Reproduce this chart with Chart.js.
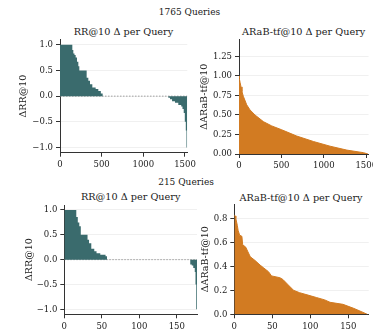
<!DOCTYPE html>
<html>
<head>
<meta charset="utf-8">
<script src="https://cdn.jsdelivr.net/npm/chart.js@4.4.0/dist/chart.umd.min.js"></script>
<style>
  html, body { margin: 0; padding: 0; background: #fff; overflow: hidden; }
  body { width: 373px; height: 331px; position: relative; font-family: "DejaVu Serif", serif; color: #1a1a1a; }
  canvas { position: absolute; }
  .txt { position: absolute; transform: translate(-50%, -50%); white-space: nowrap; line-height: 1; }
  .sup { font-size: 9px; }
  .ttl { font-size: 9.7px; }
</style>
</head>
<body>
<div class="txt sup" style="left:189.5px; top:12px">1765 Queries</div>
<div class="txt ttl" style="left:123.5px; top:31.5px">RR@10 Δ per Query</div>
<div class="txt ttl" style="left:303.7px; top:31.5px">ARaB-tf@10 Δ per Query</div>
<div class="txt sup" style="left:186px; top:181.7px">215 Queries</div>
<div class="txt ttl" style="left:130.7px; top:197.3px">RR@10 Δ per Query</div>
<div class="txt ttl" style="left:301px; top:197.7px">ARaB-tf@10 Δ per Query</div>

<canvas id="rr-top" width="200" height="145" style="left:0; top:30px"></canvas>
<canvas id="arab-top" width="200" height="145" style="left:190px; top:30px"></canvas>
<canvas id="rr-bottom" width="215" height="136" style="left:0; top:195px"></canvas>
<canvas id="arab-bottom" width="200" height="136" style="left:190px; top:195px"></canvas>

<script>
// 1765 queries (top row)
const topCount = 1528;
const topRrStart = [0, 148, 160, 174, 188, 204, 220, 232, 320, 340, 360, 388, 428, 460, 490, 512, 1300, 1320, 1345, 1380, 1420, 1455, 1470, 1485, 1498, 1510, 1518];
const topRrDelta = [1.0, 0.9, 0.83, 0.8, 0.75, 0.67, 0.58, 0.5, 0.36, 0.3, 0.23, 0.17, 0.14, 0.1, 0.05, 0, -0.03, -0.06, -0.1, -0.13, -0.17, -0.2, -0.25, -0.33, -0.5, -0.67, -1.0];
const topArabRank = [0, 3, 12, 24, 35, 51, 91, 130, 189, 287, 386, 504, 681, 878, 1074, 1271, 1468, 1520];
const topArabDelta = [1.0, 0.97, 0.92, 0.86, 0.8, 0.74, 0.63, 0.565, 0.5, 0.415, 0.36, 0.31, 0.23, 0.16, 0.1, 0.05, 0.017, 0];

// 215 queries (bottom row)
const bottomCount = 177;
const bottomRrStart = [0, 16, 18, 20, 22, 31, 33, 36, 40, 43, 48, 55, 57, 168, 170, 172, 174, 175, 176];
const bottomRrDelta = [1.0, 0.86, 0.75, 0.67, 0.5, 0.4, 0.33, 0.22, 0.17, 0.13, 0.1, 0.07, 0, -0.1, -0.12, -0.17, -0.25, -0.5, -1.0];
const bottomArabRank = [0, 1, 2, 4, 5, 7, 10, 11, 15, 18, 21, 27, 34, 38, 45, 49, 60, 64, 71, 78, 86, 97, 108, 119, 126, 143, 157, 168, 175];
const bottomArabDelta = [0.83, 0.82, 0.8, 0.74, 0.7, 0.66, 0.65, 0.58, 0.56, 0.52, 0.48, 0.45, 0.41, 0.39, 0.355, 0.32, 0.305, 0.29, 0.245, 0.2, 0.18, 0.16, 0.14, 0.12, 0.1, 0.083, 0.05, 0.02, 0];

// tick labels
const topRankTicks = [0, 500, 1000, 1500];
const bottomRankTicks = [0, 50, 100, 150];
const rrTicks = [-1, -0.5, 0, 0.5, 1];
const topArabTicks = [0, 0.25, 0.5, 0.75, 1, 1.25];
const bottomArabTicks = [0, 0.2, 0.4, 0.6, 0.8];

const TEAL = "#3a6b6d";
const ORANGE = "#d27b22";
const INK = "#1a1a1a";

Chart.defaults.font.family = "'DejaVu Serif', serif";
Chart.defaults.color = INK;

const toPoints = (xs, ys) => xs.map((x, i) => ({ x: x, y: ys[i] }));
const minus = (v, digits) => (v < 0 ? "\u2212" : "") + Math.abs(v).toFixed(digits);

function rrSets(starts, deltas, count) {
  const pts = toPoints(starts, deltas);
  pts.push({ x: count, y: 0 });
  return [
    {
      data: pts,
      stepped: true,
      fill: "origin",
      backgroundColor: TEAL,
      borderColor: "rgba(0,0,0,0)",
      borderWidth: 1,
      pointRadius: 0,
    },
    {
      data: [{ x: 0, y: 0 }, { x: count, y: 0 }],
      borderColor: "#8a8a8a",
      borderWidth: 0.8,
      borderDash: [1.5, 1.5],
      pointRadius: 0,
      fill: false,
    },
  ];
}

function arabSets(ranks, deltas) {
  return [
    {
      data: toPoints(ranks, deltas),
      fill: "origin",
      backgroundColor: ORANGE,
      borderColor: ORANGE,
      borderWidth: 1,
      pointRadius: 0,
    },
  ];
}

function panel(id, p) {
  return new Chart(document.getElementById(id), {
    type: "line",
    data: { datasets: p.datasets },
    options: {
      responsive: false,
      animation: false,
      devicePixelRatio: 1,
      layout: { padding: p.padding },
      plugins: { legend: { display: false }, tooltip: { enabled: false } },
      scales: {
        x: {
          type: "linear",
          min: 0,
          max: p.count,
          afterFit: (s) => { s.height = p.xHeight; },
          afterBuildTicks: (s) => { s.ticks = p.xTicks.map((v) => ({ value: v })); },
          grid: { drawOnChartArea: false, tickLength: 4, tickColor: "#333" },
          border: { color: "#333" },
          ticks: { autoSkip: false, maxRotation: 0, padding: 3, font: { size: 8.5 }, callback: (v) => String(v) },
        },
        y: {
          min: p.yMin,
          max: p.yMax,
          afterFit: (s) => { s.width = p.yWidth; },
          afterBuildTicks: (s) => { s.ticks = p.yTicks.map((v) => ({ value: v })); },
          grid: { color: "rgba(0,0,0,0.06)", tickColor: "#333", tickLength: 4 },
          border: { color: "#333" },
          title: { display: true, text: p.yTitle, font: { size: 9.5 }, padding: { top: p.titlePad, bottom: 0 } },
          ticks: { autoSkip: false, padding: 3, font: { size: 8.5 }, callback: (v) => minus(v, p.digits) },
        },
      },
    },
  });
}

panel("rr-top", {
  datasets: rrSets(topRrStart, topRrDelta, topCount),
  count: topCount, xTicks: topRankTicks,
  yMin: -1.1, yMax: 1.1, yTicks: rrTicks, digits: 1,
  yTitle: "ΔRR@10", titlePad: 18.3,
  padding: { top: 9.6, right: 12.7, bottom: 0, left: 0 },
  yWidth: 60, xHeight: 22.3,
});

panel("arab-top", {
  datasets: arabSets(topArabRank, topArabDelta),
  count: topCount, xTicks: topRankTicks,
  yMin: 0, yMax: 1.47, yTicks: topArabTicks, digits: 2,
  yTitle: "ΔARaB-tf@10", titlePad: 9.3,
  padding: { top: 9.3, right: 21.4, bottom: 0, left: 0 },
  yWidth: 49, xHeight: 21,
});

panel("rr-bottom", {
  datasets: rrSets(bottomRrStart, bottomRrDelta, bottomCount),
  count: bottomCount, xTicks: bottomRankTicks,
  yMin: -1.1, yMax: 1.1, yTicks: rrTicks, digits: 1,
  yTitle: "ΔRR@10", titlePad: 24.3,
  padding: { top: 10, right: 18, bottom: 0, left: 0 },
  yWidth: 64.3, xHeight: 16.7,
});

panel("arab-bottom", {
  datasets: arabSets(bottomArabRank, bottomArabDelta),
  count: bottomCount, xTicks: bottomRankTicks,
  yMin: 0, yMax: 0.917, yTicks: bottomArabTicks, digits: 1,
  yTitle: "ΔARaB-tf@10", titlePad: 10,
  padding: { top: 9.3, right: 21.2, bottom: 0, left: 0 },
  yWidth: 44.3, xHeight: 16.7,
});
</script>
</body>
</html>
